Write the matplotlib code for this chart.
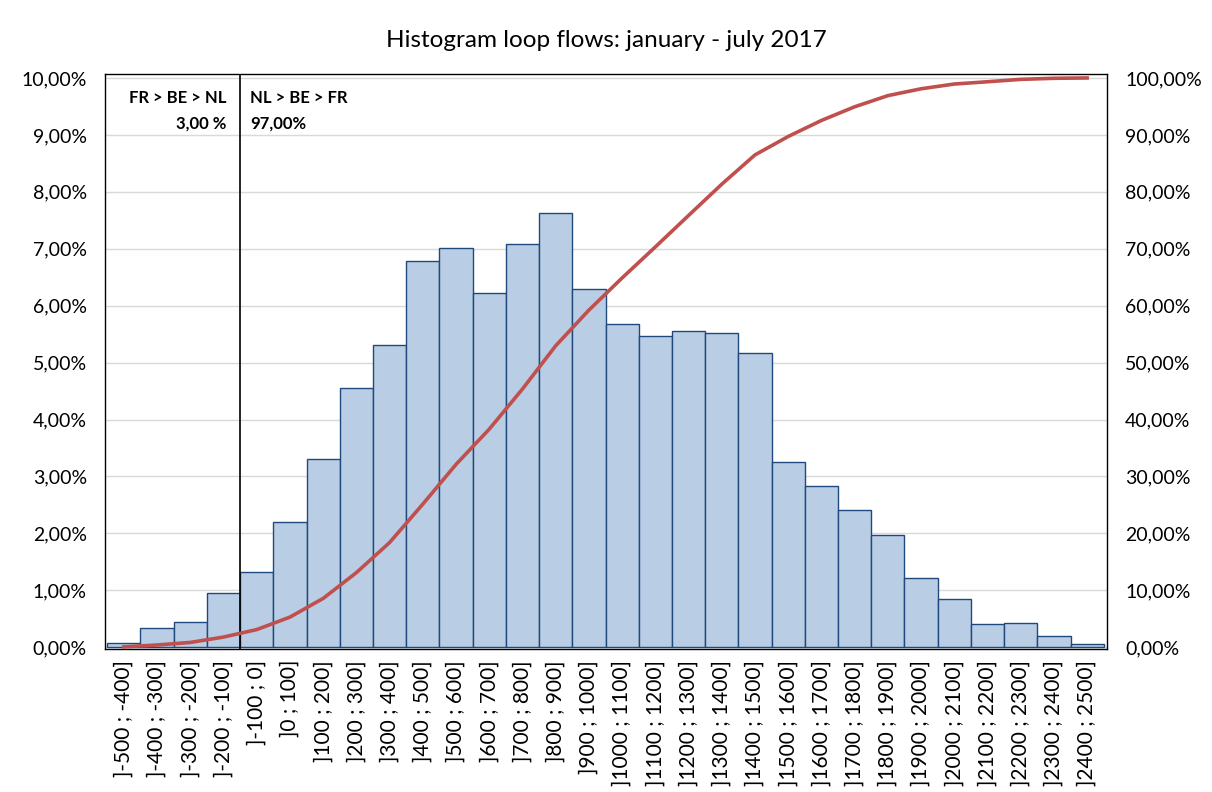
import numpy as np
import matplotlib
matplotlib.use('Agg')
import matplotlib.pyplot as plt
from matplotlib.ticker import FuncFormatter

plt.rcParams['font.family'] = ['Lato', 'DejaVu Sans']

# flow classes (MW) and share of hours in each class (%)
bins = ['-500 ; -400', '-400 ; -300', '-300 ; -200', '-200 ; -100', '-100 ; 0',
        '0 ; 100', '100 ; 200', '200 ; 300', '300 ; 400', '400 ; 500',
        '500 ; 600', '600 ; 700', '700 ; 800', '800 ; 900', '900 ; 1000',
        '1000 ; 1100', '1100 ; 1200', '1200 ; 1300', '1300 ; 1400', '1400 ; 1500',
        '1500 ; 1600', '1600 ; 1700', '1700 ; 1800', '1800 ; 1900', '1900 ; 2000',
        '2000 ; 2100', '2100 ; 2200', '2200 ; 2300', '2300 ; 2400', '2400 ; 2500']
freq = [0.07, 0.33, 0.45, 0.95, 1.32,
        2.20, 3.30, 4.55, 5.31, 6.78,
        7.01, 6.22, 7.08, 7.63, 6.29,
        5.68, 5.47, 5.55, 5.52, 5.17,
        3.25, 2.83, 2.41, 1.97, 1.21,
        0.84, 0.40, 0.42, 0.19, 0.06]
labels = [']' + b + ']' for b in bins]

freq = np.array(freq)
cum = np.cumsum(freq) / freq.sum() * 100
x = np.arange(len(freq))

pct = FuncFormatter(lambda v, p: f'{v:.2f}%'.replace('.', ','))

fig = plt.figure(figsize=(12.12, 7.92), dpi=100)
ax = fig.add_axes([0.0866, 0.1806, 0.8268, 0.726])

ax.bar(x, freq, width=1.0, color='#B9CDE5', edgecolor='#1F497D', linewidth=1.0, zorder=2)
ax.set_xlim(-0.57, 29.6)
ax.set_ylim(-0.03, 10.07)
ax.set_yticks(np.arange(0, 11, 1))
ax.yaxis.set_major_formatter(pct)
ax.grid(axis='y', color='#D9D9D9', linewidth=1.0, zorder=0)
ax.set_axisbelow(True)
ax.set_xticks(x)
ax.set_xticklabels(labels, rotation=90, fontsize=15)
ax.tick_params(axis='y', length=0, labelsize=14, pad=13)
ax.tick_params(axis='x', length=0, pad=8)
for s in ax.spines.values():
    s.set_color('black')
    s.set_linewidth(1.0)

ax2 = ax.twinx()
ax2.plot(x, cum, color='#C0504D', linewidth=2.6, zorder=3)
ax2.set_ylim(-0.3, 100.7)
ax2.set_yticks(np.arange(0, 101, 10))
ax2.yaxis.set_major_formatter(pct)
ax2.tick_params(axis='y', length=0, labelsize=14, pad=13)
for s in ax2.spines.values():
    s.set_visible(False)

# split between negative and positive loop flow direction
ax.axvline(3.5, color='black', linewidth=1.2, zorder=4)
ax.text(3.08, 9.65, 'FR > BE > NL', ha='right', va='center', fontsize=12, fontweight='bold')
ax.text(3.08, 9.2, '3,00 %', ha='right', va='center', fontsize=12, fontweight='bold')
ax.text(3.8, 9.65, 'NL > BE > FR', ha='left', va='center', fontsize=12, fontweight='bold')
ax.text(3.8, 9.2, '97,00%', ha='left', va='center', fontsize=12, fontweight='bold')

fig.suptitle('Histogram loop flows: january - july 2017', y=0.962, fontsize=17.5)

fig.savefig('out.png', dpi=100)
